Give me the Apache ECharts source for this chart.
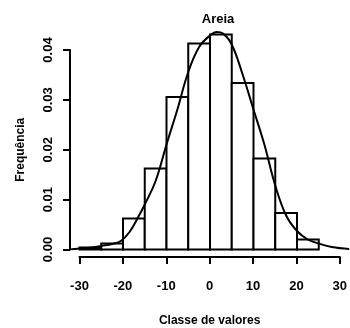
<!DOCTYPE html>
<html>
<head>
<meta charset="utf-8">
<script src="https://cdn.jsdelivr.net/npm/echarts@6/dist/echarts.min.js"></script>
<style>html,body{margin:0;padding:0;background:#fff}#c{width:350px;height:328px}</style>
</head>
<body>
<div id="c"></div>
<script>
// Histogram bins (class edges) and densities
const binStarts = [-30, -25, -20, -15, -10, -5, 0, 5, 10, 15, 20];
const binWidth = 5;
const densities = [0.0004, 0.0012, 0.0062, 0.0162, 0.0305, 0.0412, 0.0430, 0.0333, 0.0182, 0.0073, 0.0020];
// Kernel density curve
const curveX = [-32.5, -30, -27, -25, -22.5, -20.5, -18.5, -16.5, -15, -12.5, -10, -7.5, -5, -2.5, 0, 1.5, 3, 5, 7.5, 10, 12.5, 15, 17.5, 20, 22.5, 25, 28, 32];
const curveY = [0.0000, 0.0002, 0.0004, 0.0007, 0.0011, 0.0017, 0.0035, 0.0065, 0.0090, 0.0137, 0.0210, 0.0280, 0.0355, 0.0405, 0.0428, 0.0435, 0.0432, 0.0410, 0.0350, 0.0280, 0.0210, 0.0128, 0.0068, 0.0037, 0.0020, 0.0012, 0.0005, 0.0001];
const xTicks = [-30, -20, -10, 0, 10, 20, 30];
const yTicks = [0.00, 0.01, 0.02, 0.03, 0.04];

const FONT = 'Liberation Sans, Arial, sans-serif';
const histData = binStarts.map((s, i) => [s, s + binWidth, densities[i]]);
const curveData = curveX.map((x, i) => [x, curveY[i]]);

const chart = echarts.init(document.getElementById('c'), null, {renderer: 'canvas'});
chart.setOption({
  animation: false,
  backgroundColor: '#fff',
  title: {
    text: 'Areia', left: 213, top: 8, textAlign: 'center',
    textStyle: {fontFamily: FONT, fontSize: 13, fontWeight: 'bold', color: '#000'}
  },
  grid: [
    {left: 70.8, right: 0.8, top: 19.5, bottom: 78.5},
    {left: 79.5, right: 9.5, top: 256, bottom: 71},
    {left: 70, width: 1, top: 50, bottom: 78.5}
  ],
  xAxis: [
    {gridIndex: 0, type: 'value', min: -32, max: 32, show: false},
    {gridIndex: 1, type: 'value', min: -30, max: 30, interval: 10,
     axisLine: {show: true, lineStyle: {color: '#000', width: 2}},
     axisTick: {show: true, inside: false, length: 7, lineStyle: {color: '#000', width: 2}},
     splitLine: {show: false},
     axisLabel: {margin: 23, color: '#000', fontFamily: FONT, fontSize: 13, fontWeight: 'bold',
       formatter: v => xTicks.includes(v) ? String(v) : ''},
     name: 'Classe de valores', nameLocation: 'middle', nameGap: 58,
     nameTextStyle: {fontFamily: FONT, fontSize: 12, fontWeight: 'bold', color: '#000'}},
    {gridIndex: 2, type: 'value', min: 0, max: 1, show: false}
  ],
  yAxis: [
    {gridIndex: 0, type: 'value', min: 0, max: 0.046, show: false},
    {gridIndex: 1, type: 'value', min: 0, max: 1, show: false},
    {gridIndex: 2, type: 'value', min: 0, max: 0.04, interval: 0.01,
     axisLine: {show: true, lineStyle: {color: '#000', width: 2}},
     axisTick: {show: true, inside: false, length: 7, lineStyle: {color: '#000', width: 2}},
     splitLine: {show: false},
     axisLabel: {rotate: 90, margin: 15, color: '#000', fontFamily: FONT, fontSize: 13, fontWeight: 'bold',
       formatter: v => v.toFixed(2)},
     name: 'Frequência', nameLocation: 'middle', nameGap: 43, nameRotate: 90,
     nameTextStyle: {fontFamily: FONT, fontSize: 12, fontWeight: 'bold', color: '#000'}}
  ],
  series: [
    {
      type: 'custom', xAxisIndex: 0, yAxisIndex: 0,
      data: histData,
      encode: {x: [0, 1], y: 2},
      renderItem: function (params, api) {
        const p0 = api.coord([api.value(0), api.value(2)]);
        const p1 = api.coord([api.value(1), 0]);
        return {
          type: 'rect',
          shape: {x: p0[0], y: p0[1], width: p1[0] - p0[0], height: p1[1] - p0[1]},
          style: {fill: '#fff', stroke: '#000', lineWidth: 2}
        };
      },
      silent: true
    },
    {
      type: 'line', xAxisIndex: 0, yAxisIndex: 0,
      data: curveData, smooth: 0.4, symbol: 'none',
      lineStyle: {color: '#000', width: 2},
      silent: true
    }
  ]
});
</script>
</body>
</html>
